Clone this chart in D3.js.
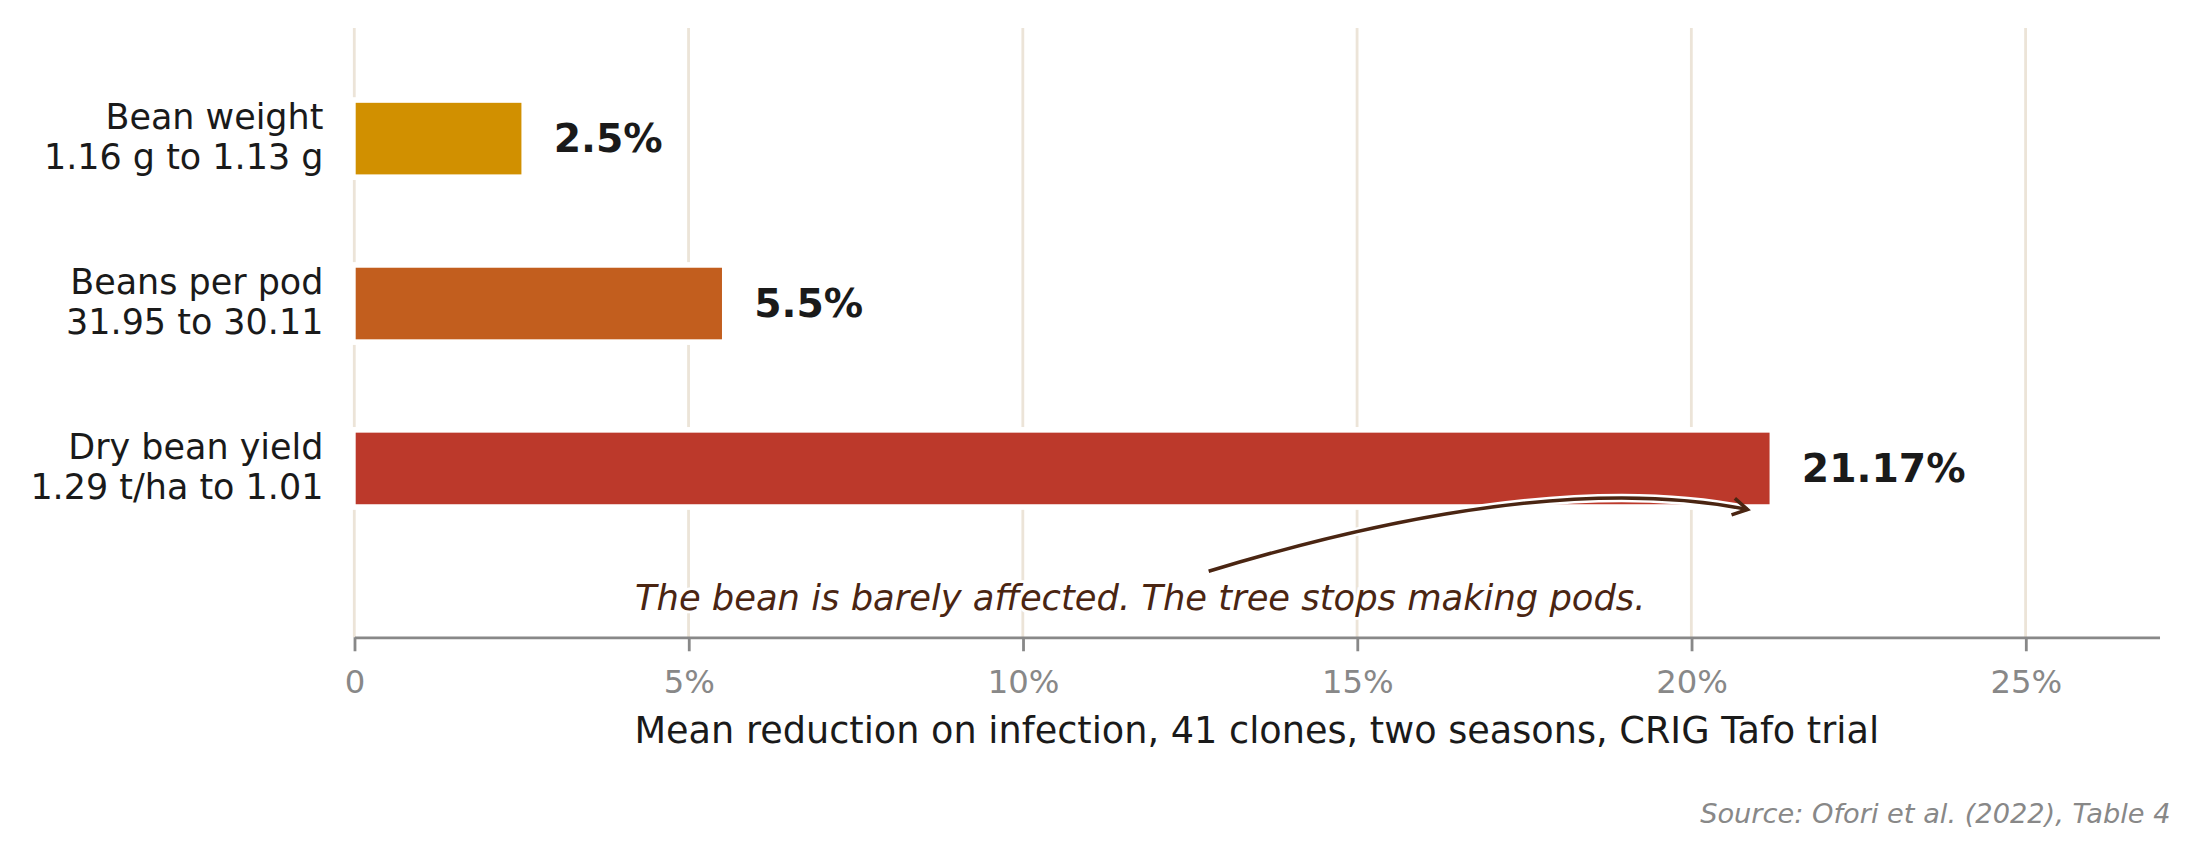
<!DOCTYPE html>
<html>
<head>
<meta charset="utf-8">
<script src="https://cdn.jsdelivr.net/npm/d3@7"></script>
<style>
  html, body { margin: 0; padding: 0; background: #fff; }
  svg { display: block; font-family: "DejaVu Sans", sans-serif; }
</style>
</head>
<body>
<svg id="chart" width="2202" height="859" viewBox="0 0 1568 612"></svg>
<script>
// data
var categories = ['Bean weight', 'Beans per pod', 'Dry bean yield']
var subLabels = ['1.16 g to 1.13 g', '31.95 to 30.11', '1.29 t/ha to 1.01']
var values = [2.5, 5.5, 21.17]
var valueLabels = ['2.5%', '5.5%', '21.17%']
var barColors = ['#D19000', '#C25E1E', '#BC392B']
var tickValues = [0, 5, 10, 15, 20, 25]
var tickLabels = ['0', '5%', '10%', '15%', '20%', '25%']

var axisTitle = 'Mean reduction on infection, 41 clones, two seasons, CRIG Tafo trial'
var note = 'The bean is barely affected. The tree stops making pods.'
var source = 'Source: Ofori et al. (2022), Table 4'

var svg = d3.select('#chart')

var x = d3.scaleLinear().domain([0, 27]).range([252, 1538])
var y = d3.scaleBand()
  .domain(categories)
  .range([40, 392.5])
  .paddingInner(0.566)
  .paddingOuter(0.283)

var axisY = 454
var ink = '#1a1a1a'
var brown = '#4a2512'

// gridlines
svg.append('g')
  .selectAll('line')
  .data(tickValues)
  .join('line')
  .attr('x1', d => x(d))
  .attr('x2', d => x(d))
  .attr('y1', 20)
  .attr('y2', axisY)
  .attr('stroke', '#ece4d8')
  .attr('stroke-width', 2)

// bars with a white halo that cuts the gridlines
var rows = svg.append('g')
  .selectAll('g')
  .data(categories)
  .join('g')

rows.append('rect')
  .attr('x', x(0) - 4)
  .attr('y', d => y(d) - 4)
  .attr('width', (d, i) => x(values[i]) - x(0) + 8)
  .attr('height', y.bandwidth() + 8)
  .attr('fill', '#fff')

rows.append('rect')
  .attr('x', x(0) + 1)
  .attr('y', d => y(d))
  .attr('width', (d, i) => x(values[i]) - x(0) - 1)
  .attr('height', y.bandwidth())
  .attr('fill', (d, i) => barColors[i])

// value labels
rows.append('text')
  .attr('x', (d, i) => x(values[i]) + 23)
  .attr('y', d => y(d) + y.bandwidth() / 2 + 9.5)
  .attr('font-size', 28)
  .attr('font-weight', 'bold')
  .attr('fill', ink)
  .text((d, i) => valueLabels[i])

// category labels, two lines
var cat = rows.append('text')
  .attr('text-anchor', 'end')
  .attr('font-size', 24.9)
  .attr('fill', ink)
cat.append('tspan')
  .attr('x', 230)
  .attr('y', d => y(d) + y.bandwidth() / 2 - 7)
  .text(d => d)
cat.append('tspan')
  .attr('x', 230)
  .attr('y', d => y(d) + y.bandwidth() / 2 + 21.5)
  .text((d, i) => subLabels[i])

// x axis
var xAxis = d3.axisBottom(x)
  .tickValues(tickValues)
  .tickFormat((d, i) => tickLabels[i])
  .tickSizeInner(10)
  .tickSizeOuter(0)
  .tickPadding(0)

var gx = svg.append('g')
  .attr('transform', 'translate(0,' + axisY + ')')
  .call(xAxis)
gx.select('.domain').attr('stroke', '#888').attr('stroke-width', 2)
gx.selectAll('.tick line').attr('stroke', '#888').attr('stroke-width', 2)
gx.selectAll('.tick text')
  .attr('dy', null)
  .attr('y', 39.5)
  .attr('fill', '#888')
  .attr('font-size', 23)
  .attr('font-family', '"DejaVu Sans", sans-serif')

svg.append('text')
  .attr('x', (x.range()[0] + x.range()[1]) / 2)
  .attr('y', 529)
  .attr('text-anchor', 'middle')
  .attr('font-size', 26.1)
  .attr('fill', ink)
  .text(axisTitle)

// annotation arrow: quadratic curve towards the yield bar
var arrowStart = [x(12.78), 407]
var arrowEnd = [x(20.84), 363]
var ctrl = [x(17.82), 334]
var arrowPath = d3.path()
arrowPath.moveTo(arrowStart[0], arrowStart[1])
arrowPath.quadraticCurveTo(ctrl[0], ctrl[1], arrowEnd[0], arrowEnd[1])

svg.append('path')
  .attr('d', arrowPath.toString())
  .attr('fill', 'none')
  .attr('stroke', '#fff')
  .attr('stroke-width', 6)

svg.append('path')
  .attr('d', arrowPath.toString())
  .attr('fill', 'none')
  .attr('stroke', brown)
  .attr('stroke-width', 2.5)

// open arrow head along the end tangent
var ang = Math.atan2(arrowEnd[1] - ctrl[1], arrowEnd[0] - ctrl[0])
var headLen = 12
var spread = Math.PI / 6
var head = d3.path()
head.moveTo(arrowEnd[0] - headLen * Math.cos(ang - spread), arrowEnd[1] - headLen * Math.sin(ang - spread))
head.lineTo(arrowEnd[0], arrowEnd[1])
head.lineTo(arrowEnd[0] - headLen * Math.cos(ang + spread), arrowEnd[1] - headLen * Math.sin(ang + spread))
svg.append('path')
  .attr('d', head.toString())
  .attr('fill', 'none')
  .attr('stroke', brown)
  .attr('stroke-width', 2.5)
  .attr('stroke-linejoin', 'miter')

svg.append('text')
  .attr('x', 452)
  .attr('y', 434.5)
  .attr('font-size', 25.15)
  .attr('font-style', 'italic')
  .attr('fill', brown)
  .attr('stroke', '#fff')
  .attr('stroke-width', 4)
  .attr('paint-order', 'stroke')
  .text(note)

// source line
svg.append('text')
  .attr('x', 1546)
  .attr('y', 586)
  .attr('text-anchor', 'end')
  .attr('font-size', 19.4)
  .attr('font-style', 'italic')
  .attr('fill', '#888')
  .text(source)
</script>
</body>
</html>
